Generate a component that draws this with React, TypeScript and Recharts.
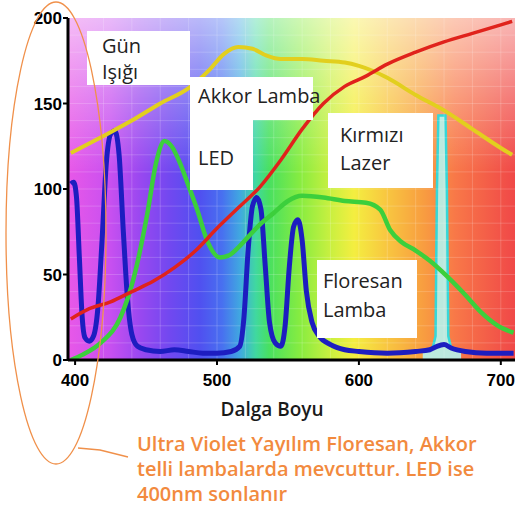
import React from 'react';
import { ComposedChart, Line, Area, XAxis, YAxis, ReferenceArea, ReferenceLine } from 'recharts';

const X_TICKS = [400, 500, 600, 700];
const Y_TICKS = [0, 50, 100, 150, 200];
const GRID_X = [420, 440, 460, 480, 500, 520, 540, 560, 580, 600, 620, 640, 660, 680, 700];
const GRID_Y = [10, 20, 30, 40, 50, 60, 70, 80, 90, 100, 110, 120, 130, 140, 150, 160, 170, 180, 190];

// Gün Işığı (daylight)
const daylight: [number, number][] = [
  [397, 121], [420, 131], [440, 140], [460, 150], [480, 159], [495, 170], [505, 179], [515, 183],
  [525, 182], [535, 178], [545, 176], [560, 176], [575, 175], [590, 174], [600, 172], [610, 169],
  [620, 165], [640, 155], [660, 146], [680, 135], [700, 124], [708, 120],
];
// Akkor Lamba (incandescent)
const incandescent: [number, number][] = [
  [397, 24], [410, 30], [425, 34], [440, 40], [455, 46], [470, 54], [485, 64], [500, 77], [515, 89],
  [530, 101], [545, 117], [560, 135], [575, 150], [590, 160], [605, 166], [620, 173], [640, 180],
  [660, 186], [680, 191], [700, 196], [708, 198],
];
// LED
const led: [number, number][] = [
  [397, 0], [405, 3], [418, 10], [432, 25], [441, 47], [451, 86], [457, 115], [463, 128], [468, 125],
  [474, 115], [479, 104], [486, 88], [493, 70], [502, 60], [508, 61], [514, 65], [522, 72], [530, 79],
  [540, 86], [550, 93], [560, 96], [575, 95], [590, 93], [605, 92], [615, 88], [622, 76], [630, 69],
  [640, 64], [650, 58], [662, 49], [675, 38], [686, 28], [698, 20], [709, 16],
];
// Floresan Lamba (fluorescent)
const fluorescent: [number, number][] = [
  [397, 103], [399, 104], [401, 95], [403, 60], [405, 25], [407, 13], [410, 11], [413, 14], [416, 30],
  [419, 70], [422, 115], [425, 132], [428, 134], [431, 120], [434, 75], [437, 35], [440, 15], [444, 8],
  [450, 6], [460, 5], [470, 6], [480, 5], [490, 4], [500, 4], [510, 5], [516, 8], [519, 25], [522, 65],
  [525, 90], [528, 95], [531, 88], [534, 55], [537, 22], [541, 10], [545, 8], [548, 20], [551, 55],
  [554, 78], [557, 82], [560, 70], [563, 40], [567, 22], [572, 14], [580, 9], [590, 6], [600, 5],
  [620, 4], [640, 5], [650, 6], [655, 8], [660, 9], [665, 7], [675, 5], [690, 4], [709, 4],
];
// Kırmızı Lazer (red laser)
const laser: [number, number][] = [
  [645, 5], [652, 7], [654, 14], [655, 100], [656, 143], [661, 143], [662, 100], [663, 14], [665, 7], [672, 5],
];

const rows = (pts: [number, number][]) => pts.map(([wl, v]) => ({ wl, v }));

const spectrumStops: [string, string][] = [
  ['0%', '#e858e8'], ['9.4%', '#c850f0'], ['16%', '#9a48f0'], ['23%', '#7048f0'], ['29.5%', '#5050f0'],
  ['34.5%', '#4870f0'], ['38.5%', '#40a8e0'], ['42%', '#40d8a0'], ['45%', '#48e060'], ['52%', '#88ec40'],
  ['58.6%', '#c8f040'], ['64%', '#f4ee40'], ['71%', '#f8c840'], ['79%', '#f8a040'], ['86.6%', '#f87848'],
  ['100%', '#f04848'],
];

const tickFont = { fontFamily: '"Liberation Sans", Arial, sans-serif', fontSize: 17, fontWeight: 700, fill: '#000' };
const labelFont = '"Open Sans", "Liberation Sans", sans-serif';

export default function App() {
  return (
    <div style={{ position: 'absolute', left: 0, top: 0, width: 517, height: 518, background: '#fff', overflow: 'hidden' }}>
      <ComposedChart width={517} height={518} margin={{ top: 18, right: 2, bottom: 0, left: 0 }}>
        <defs>
          <linearGradient id="spec" x1="0" y1="0" x2="1" y2="0">
            {spectrumStops.map(([o, c]) => (
              <stop key={o} offset={o} stopColor={c} />
            ))}
          </linearGradient>
          <linearGradient id="fade" x1="0" y1="0" x2="0" y2="1">
            <stop offset="0%" stopColor="#fff" stopOpacity={0.6} />
            <stop offset="25%" stopColor="#fff" stopOpacity={0.25} />
            <stop offset="45%" stopColor="#fff" stopOpacity={0} />
          </linearGradient>
        </defs>
        <XAxis
          type="number"
          dataKey="wl"
          domain={[395, 710]}
          ticks={X_TICKS}
          allowDataOverflow
          height={158}
          axisLine={{ stroke: '#000', strokeWidth: 3 }}
          tickLine={{ stroke: '#000', strokeWidth: 2 }}
          tickSize={5}
          tickMargin={9}
          tick={tickFont}
        />
        <YAxis
          type="number"
          domain={[0, 200]}
          ticks={Y_TICKS}
          allowDataOverflow
          width={68}
          axisLine={{ stroke: '#000', strokeWidth: 3 }}
          tickLine={{ stroke: '#000', strokeWidth: 2 }}
          tickSize={5}
          tickMargin={1}
          tick={tickFont}
        />
        <ReferenceArea x1={395} x2={710} y1={0} y2={200} fill="url(#spec)" fillOpacity={1} stroke="none" ifOverflow="visible" />
        <ReferenceArea x1={395} x2={710} y1={0} y2={200} fill="url(#fade)" fillOpacity={1} stroke="none" ifOverflow="visible" />
        {GRID_X.map((x) => (
          <ReferenceLine key={'gx' + x} x={x} stroke="#fff" strokeOpacity={0.18} strokeWidth={1} />
        ))}
        {GRID_Y.map((y) => (
          <ReferenceLine key={'gy' + y} y={y} stroke="#fff" strokeOpacity={0.18} strokeWidth={1} />
        ))}
        <Area data={rows(laser)} dataKey="v" type="linear" stroke="#35d8d8" strokeWidth={2.5} fill="#b4f4ee" fillOpacity={0.9} isAnimationActive={false} dot={false} activeDot={false} />
        <Line data={rows(fluorescent)} dataKey="v" type="monotone" stroke="#1d1dc0" strokeWidth={5} dot={false} activeDot={false} isAnimationActive={false} />
        <Line data={rows(led)} dataKey="v" type="monotone" stroke="#3ccf3c" strokeWidth={4.5} dot={false} activeDot={false} isAnimationActive={false} />
        <Line data={rows(daylight)} dataKey="v" type="monotone" stroke="#e2cf1e" strokeWidth={4} dot={false} activeDot={false} isAnimationActive={false} />
        <Line data={rows(incandescent)} dataKey="v" type="monotone" stroke="#e0231c" strokeWidth={3.5} dot={false} activeDot={false} isAnimationActive={false} />
      </ComposedChart>
      <svg width={517} height={518} style={{ position: 'absolute', left: 0, top: 0, pointerEvents: 'none' }}>
        <rect x={87} y={31} width={103} height={54} fill="#fff" />
        <rect x={190} y={77} width={123} height={43} fill="#fff" />
        <rect x={190} y={77} width={63} height={113} fill="#fff" />
        <rect x={328} y={113} width={105} height={75} fill="#fff" />
        <rect x={317} y={260} width={100} height={78} fill="#fff" />
        <g fontFamily={labelFont} fontSize={20} fill="#222">
          <text x={102} y={53}>Gün</text>
          <text x={102} y={79}>Işığı</text>
          <text x={198} y={103}>Akkor Lamba</text>
          <text x={198} y={165}>LED</text>
          <text x={340} y={142}>Kırmızı</text>
          <text x={340} y={170}>Lazer</text>
          <text x={323} y={288}>Floresan</text>
          <text x={323} y={317}>Lamba</text>
        </g>
        <text x={272} y={416} textAnchor="middle" fontFamily={labelFont} fontSize={19} fontWeight={600} fill="#1a1a1a">Dalga Boyu</text>
        <ellipse cx={56} cy={233} rx={50} ry={231} fill="none" stroke="#f0904a" strokeWidth={1.3} />
        <polyline points="78,448 100,450 128,457" fill="none" stroke="#f0904a" strokeWidth={1.3} />
        <g fontFamily={labelFont} fontSize={20} fontWeight={600} fill="#f28a3e">
          <text x={137} y={451}>Ultra Violet Yayılım Floresan, Akkor</text>
          <text x={137} y={476}>telli lambalarda mevcuttur. LED ise</text>
          <text x={137} y={501}>400nm sonlanır</text>
        </g>
      </svg>
    </div>
  );
}
